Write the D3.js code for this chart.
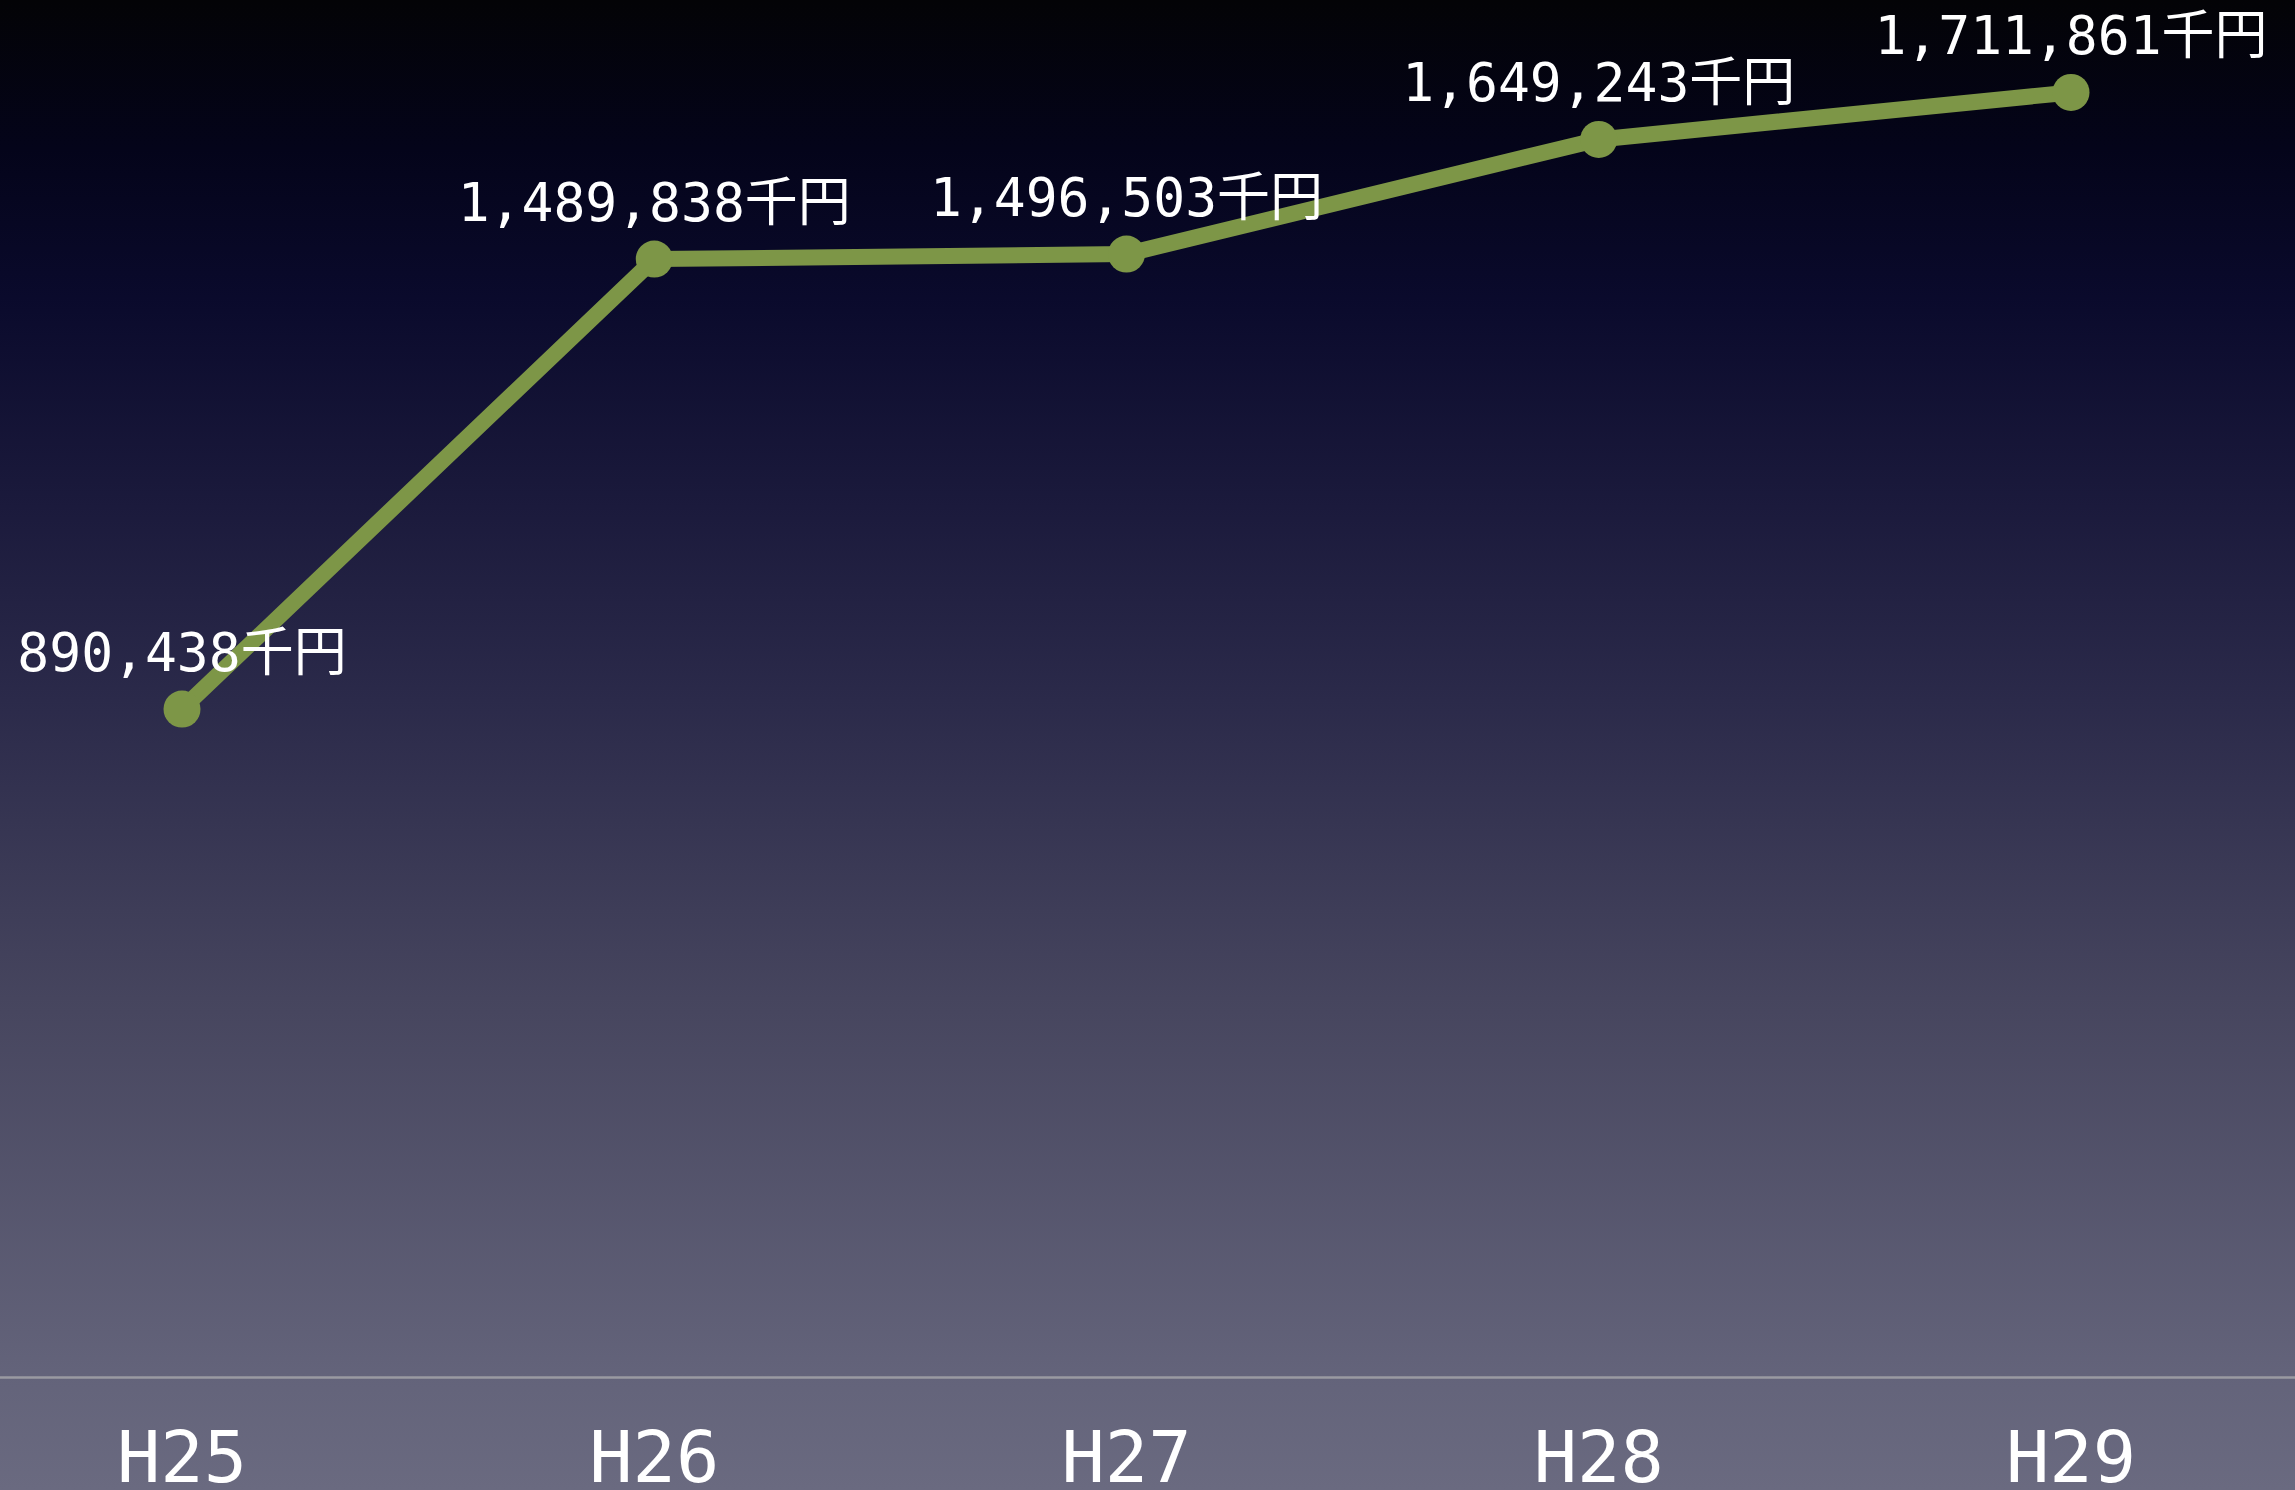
<!DOCTYPE html>
<html>
<head>
<meta charset="utf-8">
<script src="https://cdn.jsdelivr.net/npm/d3@7"></script>
<style>
  html, body { margin: 0; padding: 0; background: #000; }
  svg { display: block; }
</style>
</head>
<body>
<div id="chart"></div>
<script>
let width = 2295;
let height = 1490;

// data
let years = ["H25", "H26", "H27", "H28", "H29"];
let values = [890438, 1489838, 1496503, 1649243, 1711861];
let unit = "千円";

let svg = d3.select('#chart').append('svg')
  .attr('width', width)
  .attr('height', height)

// background gradient
let defs = svg.append('defs');
let grad = defs.append('linearGradient')
  .attr('id', 'bg')
  .attr('x1', 0).attr('y1', 0)
  .attr('x2', 0).attr('y2', 1);
let stops = [
  [0, "#030306"], [0.1, "#04041a"], [0.2, "#0a0a2c"], [0.34, "#1b1a3c"],
  [0.47, "#2b2a4a"], [0.67, "#46455e"], [0.92, "#63637a"], [1, "#6a6a80"]
];
grad.selectAll('stop').data(stops).enter().append('stop')
  .attr('offset', d => d[0])
  .attr('stop-color', d => d[1]);

svg.append('rect')
  .attr('width', width)
  .attr('height', height)
  .attr('fill', 'url(#bg)');

let x = d3.scalePoint()
  .domain(years)
  .range([182, 2071]);

let y = d3.scaleLinear()
  .domain([0, 1835000])
  .range([1377.5, 0]);

// baseline
svg.append('line')
  .attr('x1', 0).attr('x2', width)
  .attr('y1', y(0)).attr('y2', y(0))
  .attr('stroke', '#9a9aa2')
  .attr('stroke-width', 2.5);

// x labels
svg.selectAll('.xlab')
  .data(years)
  .enter()
  .append('text').classed('xlab', true)
  .attr('x', d => x(d))
  .attr('y', 1482)
  .attr('text-anchor', 'middle')
  .attr('font-family', 'DejaVu Sans Mono')
  .attr('font-size', 72)
  .attr('fill', '#fff')
  .text(d => d);

let data = years.map((d, i) => ({ year: d, value: values[i] }));

let line = d3.line()
  .x(d => x(d.year))
  .y(d => y(d.value));

svg.append('path')
  .datum(data)
  .attr('d', line)
  .attr('fill', 'none')
  .attr('stroke', '#7d9647')
  .attr('stroke-width', 16)
  .attr('stroke-linejoin', 'round');

svg.selectAll('.dot')
  .data(data)
  .enter()
  .append('circle').classed('dot', true)
  .attr('cx', d => x(d.year))
  .attr('cy', d => y(d.value))
  .attr('r', 18.5)
  .attr('fill', '#7d9647');

// value labels
svg.selectAll('.vlab')
  .data(data)
  .enter()
  .append('text').classed('vlab', true)
  .attr('x', d => x(d.year))
  .attr('y', d => y(d.value) - 38)
  .attr('text-anchor', 'middle')
  .attr('font-family', 'DejaVu Sans Mono, Noto Sans CJK JP')
  .attr('font-size', 53)
  .attr('fill', '#fff')
  .text(d => d3.format(",")(d.value) + unit);
</script>
</body>
</html>
